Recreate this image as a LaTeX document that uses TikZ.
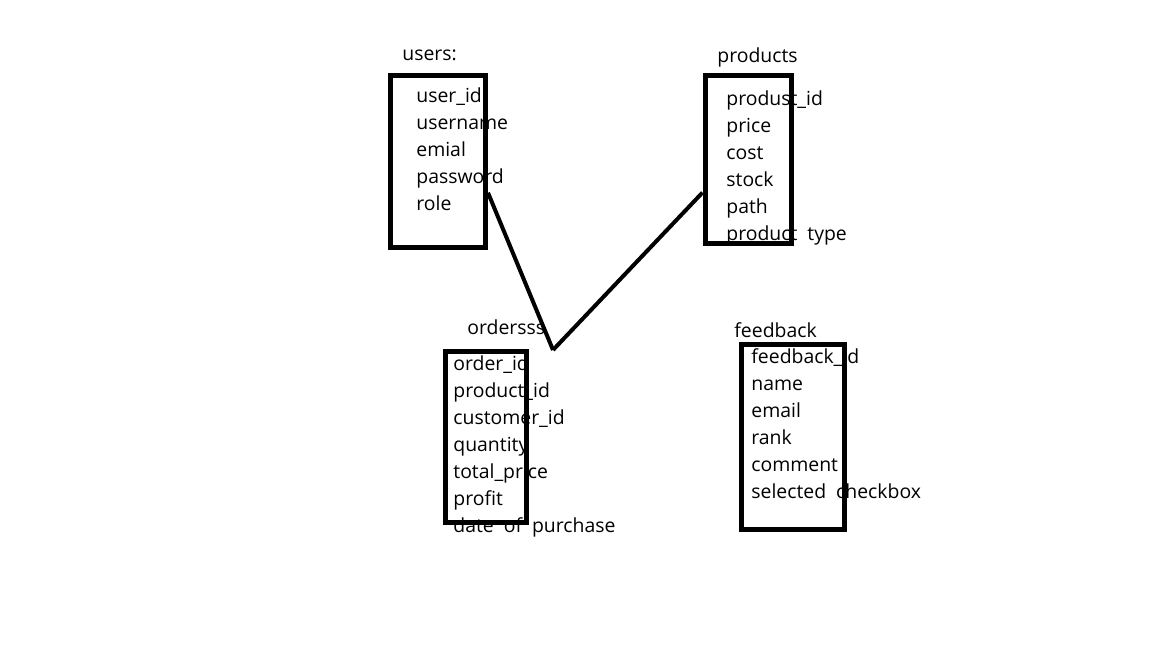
\documentclass[tikz,border=0pt]{standalone}
\usepackage{fontspec}
\setmainfont{Open Sans}
\begin{document}
\begin{tikzpicture}[x=0.5pt, y=-0.5pt,
  tablebox/.style={rectangle, draw, line width=2.5pt},
  field/.style={anchor=base west, inner sep=0pt, font=\fontsize{9.7}{11}\selectfont},
  link/.style={line width=2pt}]
\useasboundingbox (0,0) rectangle (1152,648);
% table titles
\node (userstitle) [field] at (402,61) {users:};
\node (productstitle) [field] at (717,62) {products};
\node (orderstitle) [field] at (467,334) {ordersss};
\node (feedbacktitle) [field] at (734,337) {feedback};
% fields
\foreach \f [count=\i] in {user\_id, username, emial, password, role}
  \node (userf\i) [field] at (416,{102+27*(\i-1)}) {\f};
\foreach \f [count=\i] in {produst\_id, price, cost, stock, path, product\hspace{5pt}type}
  \node (productf\i) [field] at (726,{105+27*(\i-1)}) {\f};
\foreach \f [count=\i] in {order\_id, product\_id, customer\_id, quantity, total\_price, profit, date\hspace{5pt}of\hspace{5pt}purchase}
  \node (orderf\i) [field] at (453,{370+27*(\i-1)}) {\f};
\foreach \f [count=\i] in {feedback\_id, name, email, rank, comment, selected\hspace{5pt}checkbox}
  \node (feedbackf\i) [field] at (751,{363+27*(\i-1)}) {\f};
% boxes
\node (users) [tablebox, minimum width=47.5pt, minimum height=86pt] at (438,161.5) {};
\node (products) [tablebox, minimum width=43pt, minimum height=84pt] at (748,159.5) {};
\node (orders) [tablebox, minimum width=40.25pt, minimum height=85.75pt] at (485.75,436.75) {};
\node (feedback) [tablebox, minimum width=51.5pt, minimum height=92.25pt] at (793,436.75) {};
% links
\coordinate (joint) at (553,350);
\draw [link] (users.-32) -- (joint);
\draw [link] (products.216) -- (joint);
\end{tikzpicture}
\end{document}
